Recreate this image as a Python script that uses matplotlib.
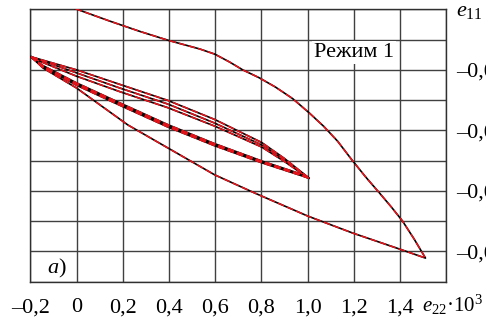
import matplotlib
matplotlib.use('Agg')
import matplotlib.pyplot as plt

plt.rcParams['font.family'] = ['Liberation Serif', 'DejaVu Serif']
plt.rcParams['mathtext.fontset'] = 'custom'
plt.rcParams['mathtext.rm'] = 'Liberation Serif'
plt.rcParams['mathtext.it'] = 'Liberation Serif:italic'

# outer branch: loading from the top down to the far tip, then back along the lowest line
e22_outer = [-0.005, 0.144, 0.274, 0.399, 0.533, 0.598, 0.662, 0.719, 0.790, 0.861, 0.935, 1.008,
             1.070, 1.130, 1.190, 1.250, 1.311, 1.362, 1.410, 1.460, 1.510,
             1.397, 1.194, 1.000, 0.771, 0.598, 0.395, 0.222, 0.0, -0.145, -0.196]
e11_outer = [0.0002, -0.0039, -0.0073, -0.0103, -0.0131, -0.0148, -0.0174, -0.0200, -0.0226, -0.0257, -0.0295, -0.0343,
             -0.0387, -0.0436, -0.0496, -0.0553, -0.0607, -0.0653, -0.0699, -0.0758, -0.0822,
             -0.0792, -0.0739, -0.0683, -0.0607, -0.0547, -0.0458, -0.0382, -0.0260, -0.0194, -0.0157]

# upper branches of the small loops (left tip -> right tip)
e22_up1 = [-0.196, 0.0, 0.187, 0.395, 0.598, 0.801, 0.900, 1.000]
e11_up1 = [-0.0157, -0.0200, -0.0248, -0.0301, -0.0364, -0.0440, -0.0493, -0.0554]
e22_up2 = [-0.196, 0.0, 0.187, 0.395, 0.598, 0.801, 0.900, 1.000]
e11_up2 = [-0.0157, -0.0210, -0.0260, -0.0313, -0.0376, -0.0448, -0.0498, -0.0554]
e22_up3 = [-0.190, 0.0, 0.187, 0.395, 0.598, 0.801, 0.900, 1.000]
e11_up3 = [-0.0162, -0.0221, -0.0272, -0.0325, -0.0386, -0.0455, -0.0503, -0.0556]

# lower branches of the small loops (right tip -> left tip)
e22_lo1 = [1.005, 0.974, 0.801, 0.598, 0.395, 0.187, 0.0, -0.145, -0.196]
e11_lo1 = [-0.0558, -0.0545, -0.0501, -0.0444, -0.0381, -0.0309, -0.0243, -0.0186, -0.0157]
e22_lo2 = [1.005, 0.974, 0.801, 0.598, 0.395, 0.187, 0.0, -0.150, -0.196]
e11_lo2 = [-0.0558, -0.0548, -0.0504, -0.0448, -0.0385, -0.0313, -0.0247, -0.0189, -0.0157]
e22_lo3 = [1.005, 0.974, 0.801, 0.598, 0.395, 0.187, 0.0, -0.140, -0.190]
e11_lo3 = [-0.0558, -0.0550, -0.0507, -0.0451, -0.0389, -0.0317, -0.0251, -0.0193, -0.0162]

x_ticks = [-0.2, 0.0, 0.2, 0.4, 0.6, 0.8, 1.0, 1.2, 1.4, 1.6]
x_labels = ['–0,2', '0', '0,2', '0,4', '0,6', '0,8', '1,0', '1,2', '1,4', '']
y_ticks = [0.0, -0.01, -0.02, -0.03, -0.04, -0.05, -0.06, -0.07, -0.08, -0.09]
y_labels = ['', '', '–0,02', '', '–0,04', '', '–0,06', '', '–0,08', '']

fig = plt.figure(figsize=(4.86, 3.22), dpi=100)
ax = fig.add_axes([0.0623, 0.1252, 0.856, 0.8459])

branches = [(e22_outer, e11_outer), (e22_up1, e11_up1), (e22_up2, e11_up2),
            (e22_up3, e11_up3), (e22_lo1, e11_lo1), (e22_lo2, e11_lo2),
            (e22_lo3, e11_lo3)]
for xs, ys in branches:
    ax.plot(xs, ys, color='black', lw=1.2, zorder=3)
    ax.plot(xs, ys, color='#e8141b', lw=1.1, dashes=(4.5, 2.0), zorder=4)

ax.set_xlim(-0.2, 1.6)
ax.set_ylim(-0.09, 0.0)
ax.set_xticks(x_ticks)
ax.set_xticklabels(x_labels)
ax.set_yticks(y_ticks)
ax.set_yticklabels(y_labels)
ax.yaxis.tick_right()
ax.tick_params(axis='both', length=0, labelsize=16)
ax.tick_params(axis='x', pad=12)
ax.tick_params(axis='y', pad=7)
ax.grid(True, color='#404040', lw=1.0)
for sp in ax.spines.values():
    sp.set_linewidth(1.0)
    sp.set_color('#303030')

ax.text(1.2, -0.0144, 'Режим 1', fontsize=16, ha='center', va='center',
        bbox=dict(facecolor='white', edgecolor='none', pad=1.5), zorder=5)
ax.text(-0.085, -0.0855, '$a$)', fontsize=16, ha='center', va='center', zorder=5)
fig.text(0.938, 0.965, '$e_{11}$', fontsize=16, ha='left', va='center')
fig.text(0.994, 0.052, '$e_{22}$·10$^{3}$', fontsize=15, ha='right', va='center')

fig.savefig('out.png', dpi=100)
